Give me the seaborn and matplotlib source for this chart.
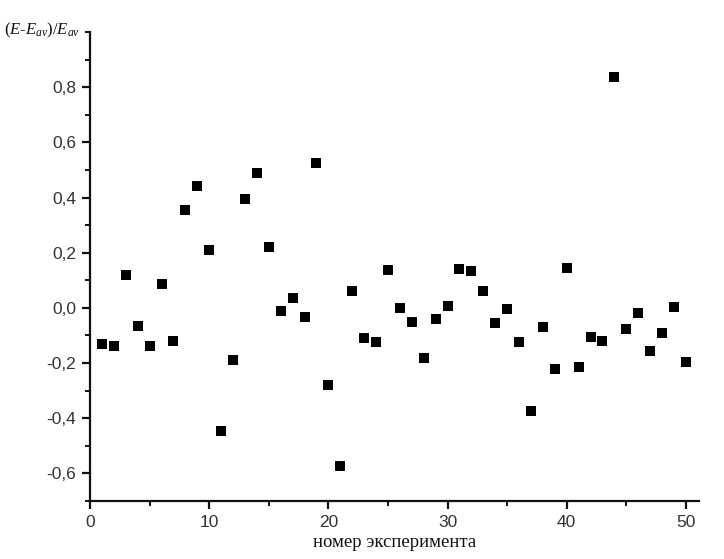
import matplotlib
matplotlib.use("Agg")
import matplotlib.pyplot as plt
import matplotlib.ticker as mticker
import seaborn as sns
import pandas as pd

experiment = list(range(1, 51))
deviation = [-0.13, -0.14, 0.12, -0.065, -0.137, 0.087, -0.12, 0.355, 0.44, 0.21,
             -0.445, -0.19, 0.394, 0.488, 0.22, -0.012, 0.035, -0.033, 0.525, -0.278,
             -0.575, 0.06, -0.108, -0.122, 0.138, 0.0, -0.05, -0.18, -0.04, 0.007,
             0.142, 0.135, 0.06, -0.055, -0.005, -0.125, -0.375, -0.07, -0.222, 0.145,
             -0.213, -0.107, -0.12, 0.835, -0.078, -0.02, -0.155, -0.09, 0.003, -0.198]
y_ticks = [-0.6, -0.4, -0.2, 0.0, 0.2, 0.4, 0.6, 0.8]
x_ticks = [0, 10, 20, 30, 40, 50]

sns.set_theme(style="ticks")
plt.rcParams['font.family'] = ['Liberation Sans', 'DejaVu Sans']
plt.rcParams['mathtext.fontset'] = 'custom'
plt.rcParams['mathtext.rm'] = 'Liberation Serif'
plt.rcParams['mathtext.it'] = 'Liberation Serif:italic'

df = pd.DataFrame({"x": experiment, "y": deviation})

fig = plt.figure(figsize=(7.24, 5.59), dpi=100)
ax = fig.add_axes([0.1243, 0.1038, 0.8412, 0.839])
sns.scatterplot(data=df, x="x", y="y", marker="s", s=48, color="black",
                edgecolor="black", linewidth=0, ax=ax)

ax.set_xlim(0, 51.1)
ax.set_ylim(-0.7, 1.0)
ax.set_xticks(x_ticks)
ax.set_yticks(y_ticks)
ax.xaxis.set_minor_locator(mticker.MultipleLocator(5))
ax.yaxis.set_minor_locator(mticker.MultipleLocator(0.1))
ax.yaxis.set_major_formatter(mticker.FuncFormatter(lambda v, p: f"{v:.1f}".replace(".", ",")))
ax.xaxis.set_major_formatter(mticker.FuncFormatter(lambda v, p: f"{int(round(v))}"))

for s in ["top", "right"]:
    ax.spines[s].set_visible(False)
for s in ["left", "bottom"]:
    ax.spines[s].set_linewidth(1.6)
    ax.spines[s].set_color("#111111")

ax.tick_params(which="major", direction="out", length=6, width=1.6, color="#111111",
               labelsize=12.5, labelcolor="#333333", pad=4)
ax.tick_params(which="minor", direction="out", length=3.5, width=1.4, color="#111111")

ax.set_xlabel("номер эксперимента", family="Liberation Serif", fontsize=13.5,
              labelpad=3, color="#111111")
ax.set_ylabel("")
fig.text(0.006, 0.929, r"$(E$-$E_{av})/E_{av}$",
         family="Liberation Serif", fontstyle="italic", fontsize=12, color="#111111",
         ha="left", va="bottom")

fig.savefig("out.png", dpi=100)
